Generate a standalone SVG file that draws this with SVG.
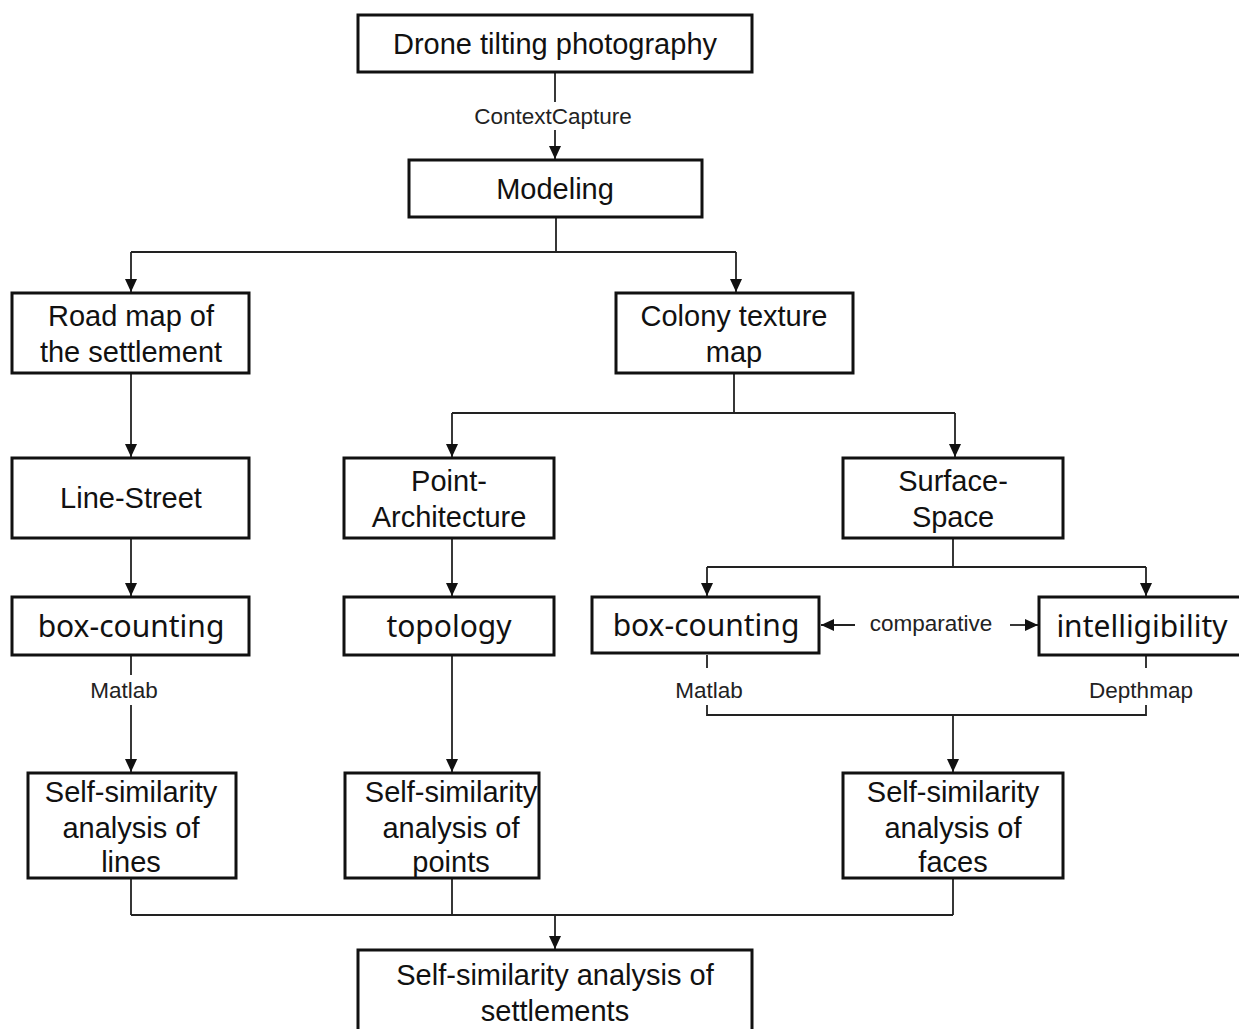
<svg xmlns="http://www.w3.org/2000/svg" width="1239" height="1029" viewBox="0 0 1239 1029">
<style>
.box{fill:#fff;stroke:#111;stroke-width:3}
.t{font-family:"Liberation Sans",Arial,sans-serif;font-size:29px;fill:#111;text-anchor:middle}
.k{font-family:"Noto Sans","Open Sans",sans-serif;font-size:30px;fill:#111;text-anchor:middle}
.s{font-family:"Liberation Sans",Arial,sans-serif;font-size:22.5px;fill:#222;text-anchor:middle}
.c{fill:none;stroke:#222;stroke-width:1.8}
.a{marker-end:url(#ah)}
</style>
<defs>
<marker id="ah" markerUnits="userSpaceOnUse" markerWidth="13" markerHeight="14" viewBox="0 0 13 14" refX="13" refY="7" orient="auto">
<path d="M0,1 L13,7 L0,13 Z" fill="#111"/>
</marker>
</defs>
<rect width="1239" height="1029" fill="#fff"/>
<g id="connectors">
<path class="c" d="M555,73 V102"/>
<path class="c a" d="M555,130 V159"/>
<path class="c" d="M556,217 V252 M131,252 H736"/>
<path class="c a" d="M131,252 V292"/>
<path class="c a" d="M736,252 V292"/>
<path class="c a" d="M131,373 V457"/>
<path class="c a" d="M131,538 V596"/>
<path class="c" d="M131,655 V675"/>
<path class="c a" d="M131,705 V772"/>
<path class="c" d="M734,373 V413 M452,413 H955"/>
<path class="c a" d="M452,413 V457"/>
<path class="c a" d="M955,413 V457"/>
<path class="c a" d="M452,538 V596"/>
<path class="c a" d="M452,655 V772"/>
<path class="c" d="M953,538 V567 M707,567 H1146"/>
<path class="c a" d="M707,567 V596"/>
<path class="c a" d="M1146,567 V596"/>
<path class="c a" d="M855,625 H821"/>
<path class="c a" d="M1010,625 H1038"/>
<path class="c" d="M707,655 V668 M707,705 V715 H1146 V705 M1146,655 V668"/>
<path class="c a" d="M953,715 V772"/>
<path class="c" d="M131,878 V915 M452,878 V915 M953,878 V915 M131,915 H953"/>
<path class="c a" d="M555,915 V949"/>
</g>
<g id="labels">
<text class="s" x="553" y="124">ContextCapture</text>
<text class="s" x="124" y="698">Matlab</text>
<text class="s" x="931" y="631">comparative</text>
<text class="s" x="709" y="698">Matlab</text>
<text class="s" x="1141" y="698">Depthmap</text>
</g>
<g id="n-drone"><rect class="box" x="358" y="15" width="394" height="57"/><text class="t" x="555" y="54">Drone tilting photography</text></g>
<g id="n-modeling"><rect class="box" x="409" y="160" width="293" height="57"/><text class="t" x="555" y="199">Modeling</text></g>
<g id="n-road"><rect class="box" x="12" y="293" width="237" height="80"/><text class="t" x="131" y="326">Road map of</text><text class="t" x="131" y="362">the settlement</text></g>
<g id="n-colony"><rect class="box" x="616" y="293" width="237" height="80"/><text class="t" x="734" y="326">Colony texture</text><text class="t" x="734" y="362">map</text></g>
<g id="n-line"><rect class="box" x="12" y="458" width="237" height="80"/><text class="t" x="131" y="508">Line-Street</text></g>
<g id="n-point"><rect class="box" x="344" y="458" width="210" height="80"/><text class="t" x="449" y="491">Point-</text><text class="t" x="449" y="527">Architecture</text></g>
<g id="n-surface"><rect class="box" x="843" y="458" width="220" height="80"/><text class="t" x="953" y="491">Surface-</text><text class="t" x="953" y="527">Space</text></g>
<g id="n-box1"><rect class="box" x="12" y="597" width="237" height="58"/><text class="k" x="131" y="637">box-counting</text></g>
<g id="n-topology"><rect class="box" x="344" y="597" width="210" height="58"/><text class="k" x="449" y="637">topology</text></g>
<g id="n-box2"><rect class="box" x="592" y="597" width="227" height="56"/><text class="k" x="706" y="636">box-counting</text></g>
<g id="n-intel"><rect class="box" x="1039" y="597" width="210" height="58"/><text class="k" x="1142" y="637">intelligibility</text></g>
<g id="n-sslines"><rect class="box" x="28" y="773" width="208" height="105"/><text class="t" x="131" y="802">Self-similarity</text><text class="t" x="131" y="838">analysis of</text><text class="t" x="131" y="872">lines</text></g>
<g id="n-sspoints"><rect class="box" x="345" y="773" width="194" height="105"/><text class="t" x="451" y="802">Self-similarity</text><text class="t" x="451" y="838">analysis of</text><text class="t" x="451" y="872">points</text></g>
<g id="n-ssfaces"><rect class="box" x="843" y="773" width="220" height="105"/><text class="t" x="953" y="802">Self-similarity</text><text class="t" x="953" y="838">analysis of</text><text class="t" x="953" y="872">faces</text></g>
<g id="n-final"><rect class="box" x="358" y="950" width="394" height="90"/><text class="t" x="555" y="985">Self-similarity analysis of</text><text class="t" x="555" y="1021">settlements</text></g>
</svg>
